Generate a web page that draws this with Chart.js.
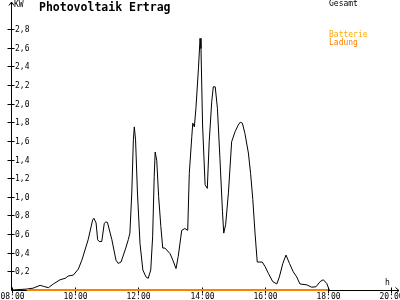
<!DOCTYPE html>
<html>
<head>
<meta charset="utf-8">
<script src="https://cdn.jsdelivr.net/npm/chart.js@4/dist/chart.umd.min.js"></script>
<style>
  body { margin: 0; background: #fff; }
  canvas { display: block; }
</style>
</head>
<body>
<canvas id="pv" width="400" height="300"></canvas>
<script>
// Zeitpunkte in Stunden (dezimal) und Leistung in kW
const times = [8.00, 8.47, 8.67, 8.89, 8.99, 9.15, 9.31, 9.52, 9.68, 9.78, 9.94,
  10.10, 10.21, 10.31, 10.41, 10.55, 10.59, 10.66, 10.71, 10.76, 10.84, 10.92, 10.97,
  11.02, 11.16, 11.29, 11.36, 11.45, 11.58, 11.68, 11.73, 11.79, 11.84, 11.87, 11.91, 11.97,
  12.05, 12.14, 12.24, 12.31, 12.39, 12.45, 12.50, 12.53, 12.58, 12.64, 12.71, 12.77, 12.84,
  13.00, 13.09, 13.19, 13.26, 13.37, 13.47, 13.56, 13.61, 13.69, 13.72, 13.77, 13.82, 13.90, 13.95, 13.98,
  14.03, 14.11, 14.18, 14.24, 14.32, 14.37, 14.43, 14.50, 14.58, 14.66, 14.70, 14.76, 14.85, 14.95,
  15.06, 15.16, 15.22, 15.29, 15.37, 15.48, 15.55, 15.62, 15.69, 15.76, 15.92,
  16.01, 16.11, 16.25, 16.38, 16.46, 16.57, 16.67, 16.78, 16.90,
  17.01, 17.11, 17.33, 17.48, 17.62, 17.75, 17.85, 17.96, 18.04];
const gesamt = [0, 0.01, 0.02, 0.05, 0.04, 0.025, 0.065, 0.11, 0.125, 0.15, 0.16,
  0.225, 0.32, 0.43, 0.54, 0.75, 0.77, 0.72, 0.54, 0.52, 0.52, 0.715, 0.73,
  0.725, 0.54, 0.32, 0.285, 0.30, 0.43, 0.54, 0.61, 1.04, 1.61, 1.75, 1.61, 1.04,
  0.50, 0.215, 0.14, 0.125, 0.215, 0.57, 1.22, 1.48, 1.39, 1.00, 0.68, 0.45, 0.45,
  0.39, 0.32, 0.23, 0.36, 0.64, 0.66, 0.64, 1.25, 1.65, 1.79, 1.75, 1.95, 2.38, 2.70, 2.59,
  1.77, 1.13, 1.09, 1.59, 2.02, 2.18, 2.18, 1.95, 1.41, 0.84, 0.61, 0.70, 1.05, 1.59,
  1.70, 1.77, 1.80, 1.79, 1.68, 1.47, 1.25, 0.97, 0.61, 0.30, 0.30,
  0.25, 0.18, 0.09, 0.065, 0.14, 0.285, 0.375, 0.285, 0.195,
  0.14, 0.065, 0.055, 0.03, 0.035, 0.09, 0.11, 0.07, 0];

const batterieTimes = [8.47, 18.00];
const batterieValues = [0, 0];

const xTicks = [8, 10, 12, 14, 16, 18, 20];
const xTickLabels = ["08:00", "10:00", "12:00", "14:00", "16:00", "18:00", "20:00"];
const yTicks = [0.2, 0.4, 0.6, 0.8, 1.0, 1.2, 1.4, 1.6, 1.8, 2.0, 2.2, 2.4, 2.6, 2.8];
const yTickLabels = ["0,2", "0,4", "0,6", "0,8", "1,0", "1,2", "1,4", "1,6", "1,8", "2,0", "2,2", "2,4", "2,6", "2,8"];

const MONO = '"DejaVu Sans Mono", monospace';

const axesPlugin = {
  id: "pvAxes",
  beforeDatasetsDraw(chart) {
    const { ctx, chartArea: a, scales: { x, y } } = chart;
    const y0 = y.getPixelForValue(0) + 0.5;
    const ax = x.left + 0.5;
    ctx.save();
    ctx.strokeStyle = "#000";
    ctx.lineWidth = 1;
    ctx.beginPath();
    // Achsen
    ctx.moveTo(ax, a.top);
    ctx.lineTo(ax, y0);
    ctx.lineTo(a.right, y0);
    // Pfeile
    ctx.moveTo(ax - 2.5, a.top + 3.5);
    ctx.lineTo(ax, a.top);
    ctx.lineTo(ax + 2.5, a.top + 3.5);
    ctx.moveTo(a.right - 3.5, y0 - 3);
    ctx.lineTo(a.right, y0);
    ctx.lineTo(a.right - 3.5, y0 + 3);
    // Striche
    yTicks.forEach(v => {
      const py = Math.round(y.getPixelForValue(v)) + 0.5;
      ctx.moveTo(ax - 4, py);
      ctx.lineTo(ax + 3, py);
    });
    xTicks.forEach(v => {
      const px = Math.round(x.getPixelForValue(v)) + 0.5;
      ctx.moveTo(px, y0 - 3);
      ctx.lineTo(px, y0 + 3);
    });
    ctx.stroke();
    ctx.restore();
  },
  afterDraw(chart) {
    const { ctx, chartArea: a, scales: { x, y } } = chart;
    const ax = x.left;
    const y0 = y.getPixelForValue(0);
    ctx.save();
    ctx.fillStyle = "#000";
    ctx.font = "8px " + MONO;
    ctx.textBaseline = "middle";
    ctx.textAlign = "left";
    yTicks.forEach((v, i) => ctx.fillText(yTickLabels[i], ax + 4, Math.round(y.getPixelForValue(v)) + 0.5));
    ctx.textBaseline = "top";
    ctx.textAlign = "center";
    xTicks.forEach((v, i) => ctx.fillText(xTickLabels[i], Math.round(x.getPixelForValue(v)) + 0.5, y0 + 3));
    ctx.textAlign = "left";
    ctx.fillText("KW", ax + 3, 1);
    ctx.textBaseline = "alphabetic";
    ctx.fillText("h", 385, 285);

    // Titel
    ctx.font = "bold 11.5px " + MONO;
    ctx.fillText("Photovoltaik Ertrag", 39, 11);

    // Legende
    ctx.font = "8px " + MONO;
    ctx.textBaseline = "top";
    const ds = chart.data.datasets;
    ctx.fillStyle = ds[0].borderColor;
    ctx.fillText(ds[0].label, 329, 0);
    ds[1].label.split(" ").forEach((w, i) => {
      ctx.fillStyle = i === 0 ? "#ffaa00" : ds[1].borderColor;
      ctx.fillText(w, 329, 31 + i * 8);
    });
    ctx.restore();
  }
};

new Chart(document.getElementById("pv"), {
  type: "line",
  data: {
    datasets: [
      {
        label: "Gesamt",
        data: times.map((t, i) => ({ x: t, y: gesamt[i] })),
        borderColor: "#000000",
        borderWidth: 1,
        pointRadius: 0,
        tension: 0,
        order: 2
      },
      {
        label: "Batterie Ladung",
        data: batterieTimes.map((t, i) => ({ x: t, y: batterieValues[i] })),
        borderColor: "#ff8000",
        borderWidth: 2,
        pointRadius: 0,
        tension: 0,
        clip: 4,
        order: 1
      }
    ]
  },
  options: {
    responsive: false,
    devicePixelRatio: 1,
    animation: false,
    layout: { padding: { left: 11, top: 2, right: 1, bottom: 10 } },
    plugins: { legend: { display: false }, tooltip: { enabled: false }, title: { display: false } },
    scales: {
      x: { type: "linear", min: 7.968, max: 20.246, display: false },
      y: { min: 0, max: 3.09, display: false }
    }
  },
  plugins: [axesPlugin]
});
</script>
</body>
</html>
